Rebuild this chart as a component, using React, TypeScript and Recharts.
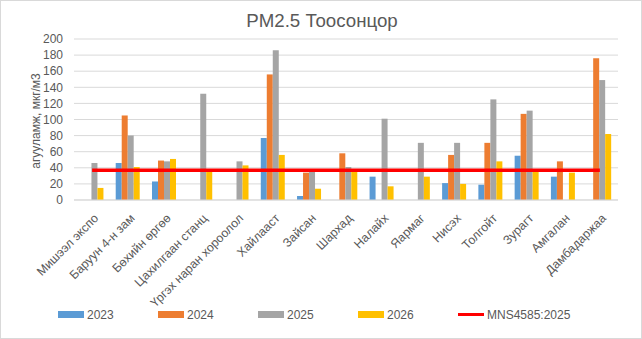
import React from "react";
import { ComposedChart, Bar, Line, XAxis, YAxis, CartesianGrid } from "recharts";

const categories = [
  "Мишээл экспо",
  "Баруун 4-н зам",
  "Бөхийн өргөө",
  "Цахилгаан станц",
  "Үргэх наран хороолол",
  "Хайлааст",
  "Зайсан",
  "Шархад",
  "Налайх",
  "Яармаг",
  "Нисэх",
  "Толгойт",
  "Зурагт",
  "Амгалан",
  "Дамбадаржаа",
];
const v2023 = [null, 46, 23, null, null, 77, 5, null, 29, null, 21, 19, 55, 29, null];
const v2024 = [null, 105, 49, null, null, 156, 34, 58, null, null, 56, 71, 107, 48, 176];
const v2025 = [46, 80, 48, 132, 48, 186, 36, 41, 101, 71, 71, 125, 111, null, 149];
const v2026 = [15, 41, 51, 36, 43, 56, 14, 36, 17, 29, 20, 48, 36, 34, 82];
const standard = 37;
const yTicks = [0, 20, 40, 60, 80, 100, 120, 140, 160, 180, 200];

const data = categories.map((name, i) => ({
  name,
  y2023: v2023[i],
  y2024: v2024[i],
  y2025: v2025[i],
  y2026: v2026[i],
  mns: standard,
}));

const FONT = '"Liberation Sans", Arial, sans-serif';
const TXT = "#595959";

const XTick = (props: any) => {
  const { x, y, payload } = props;
  return (
    <g transform={`translate(${x + 7},${y + 11})`}>
      <text textAnchor="end" transform="rotate(-45)" fill={TXT} fontSize={12.3} fontFamily={FONT}>
        {payload.value}
      </text>
    </g>
  );
};

const legendItems = [
  { label: "2023", color: "#5B9BD5", left: 57, line: false },
  { label: "2024", color: "#ED7D31", left: 157, line: false },
  { label: "2025", color: "#A5A5A5", left: 257, line: false },
  { label: "2026", color: "#FFC000", left: 357, line: false },
  { label: "MNS4585:2025", color: "#FF0000", left: 457, line: true },
];

export default function App() {
  return (
    <div
      style={{
        position: "absolute",
        left: 0,
        top: 0,
        width: 642,
        height: 339,
        boxSizing: "border-box",
        border: "1px solid #d9d9d9",
        background: "#fff",
        fontFamily: FONT,
      }}
    >
      <div
        style={{
          position: "absolute",
          left: 0,
          width: 642,
          top: 9,
          textAlign: "center",
          fontSize: 18.7,
          color: TXT,
          lineHeight: "22px",
        }}
      >
        PM2.5 Тоосонцор
      </div>
      <div
        style={{
          position: "absolute",
          left: 35,
          top: 120,
          transform: "translate(-50%, -50%) rotate(-90deg)",
          whiteSpace: "nowrap",
          fontSize: 12,
          color: TXT,
        }}
      >
        агууламж, мкг/м3
      </div>
      <div style={{ position: "absolute", left: -1, top: -1 }}>
        <ComposedChart
          width={642}
          height={339}
          data={data}
          margin={{ top: 39, right: 24, left: 0, bottom: 29 }}
          barCategoryGap="15%"
          barGap={0}
        >
          <CartesianGrid vertical={false} stroke="#d9d9d9" strokeWidth={1} />
          <XAxis
            dataKey="name"
            interval={0}
            tick={<XTick />}
            tickLine={false}
            axisLine={{ stroke: "#d9d9d9" }}
            height={110}
          />
          <YAxis
            domain={[0, 200]}
            ticks={yTicks}
            width={74}
            axisLine={false}
            tickLine={false}
            tickMargin={5}
            tick={{ fill: TXT, fontSize: 12, fontFamily: FONT }}
            interval={0}
          />
          <Bar dataKey="y2023" fill="#5B9BD5" isAnimationActive={false} />
          <Bar dataKey="y2024" fill="#ED7D31" isAnimationActive={false} />
          <Bar dataKey="y2025" fill="#A5A5A5" isAnimationActive={false} />
          <Bar dataKey="y2026" fill="#FFC000" isAnimationActive={false} />
          <Line
            dataKey="mns"
            stroke="#FF0000"
            strokeWidth={3.5}
            dot={false}
            activeDot={false}
            isAnimationActive={false}
          />
        </ComposedChart>
      </div>
      {legendItems.map((it) => (
        <div key={it.label}>
          <div
            style={{
              position: "absolute",
              left: it.left,
              top: it.line ? 312 : 310,
              width: 26,
              height: it.line ? 3 : 7,
              background: it.color,
            }}
          />
          <div
            style={{
              position: "absolute",
              left: it.left + 29,
              top: 306,
              fontSize: 12,
              lineHeight: "16px",
              color: TXT,
              whiteSpace: "nowrap",
            }}
          >
            {it.label}
          </div>
        </div>
      ))}
    </div>
  );
}
